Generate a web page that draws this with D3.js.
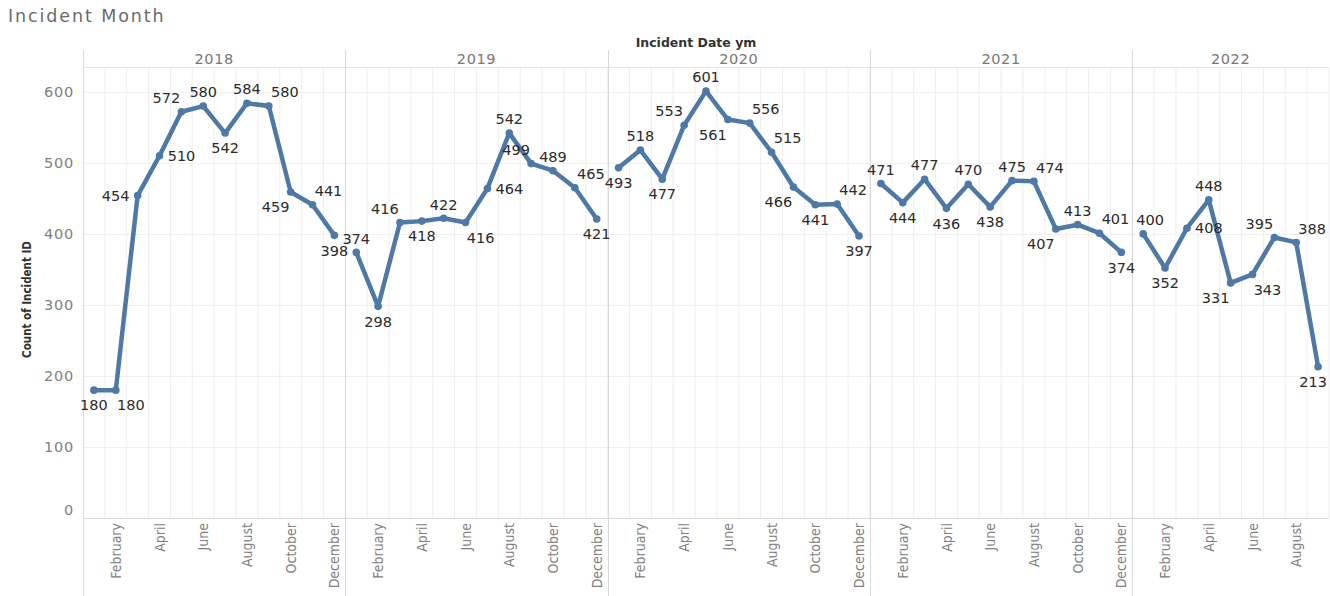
<!DOCTYPE html>
<html>
<head>
<meta charset="utf-8">
<script src="https://cdn.jsdelivr.net/npm/d3@7"></script>
<style>
  html, body { margin: 0; padding: 0; background: #fff; }
  svg { display: block; }
</style>
</head>
<body>
<svg id="chart" width="1330" height="596"></svg>
<script>
// ---------- data ----------
const years = ["2018", "2019", "2020", "2021", "2022"];
const monthNames = ["January","February","March","April","May","June","July","August","September","October","November","December"];
const counts2018 = [180, 180, 454, 510, 572, 580, 542, 584, 580, 459, 441, 398];
const counts2019 = [374, 298, 416, 418, 422, 416, 464, 542, 499, 489, 465, 421];
const counts2020 = [493, 518, 477, 553, 601, 561, 556, 515, 466, 441, 442, 397];
const counts2021 = [471, 444, 477, 436, 470, 438, 475, 474, 407, 413, 401, 374];
const counts2022 = [400, 352, 408, 448, 331, 343, 395, 388, 213];
const yTicks = [0, 100, 200, 300, 400, 500, 600];
const monthTickLabels = ["February", "April", "June", "August", "October", "December"];

// label placement codes (a=above, b=below, l=left, r=right, combos)
const labelPlace2018 = ["b","br","l","r","al","a","b","a","ar","bl","ar","b"];
const labelPlace2019 = ["a","b","al","b","a","br","r","a","al","a","ar","b"];
const labelPlace2020 = ["b","a","b","al","a","bl","ar","ar","bl","b","ar","b"];
const labelPlace2021 = ["a","b","a","b","a","b","a","ar","bl","a","ar","b"];
const labelPlace2022 = ["as","b","r","a","bl","br","al","ar","bs"];

const seriesByYear = [counts2018, counts2019, counts2020, counts2021, counts2022];
const placeByYear = [labelPlace2018, labelPlace2019, labelPlace2020, labelPlace2021, labelPlace2022];

const rows = [];
years.forEach((yr, yi) => {
  seriesByYear[yi].forEach((v, mi) => {
    rows.push({ year: yr, month: monthNames[mi], key: yr + "-" + mi, value: v, place: placeByYear[yi][mi] });
  });
});

// ---------- layout ----------
const W = 1330, H = 596;
const plotLeft = 83, plotRight = 1329, plotTop = 67, plotBottom = 518, headerTop = 50;
const lineColor = "#4e79a7";
const sepColor = "#d9d9d9";
const gridColor = "#efefef";

const svg = d3.select("#chart");

const x = d3.scaleBand().domain(rows.map(d => d.key)).range([plotLeft, plotRight]).paddingInner(0).paddingOuter(0);
const y = d3.scaleLinear().domain([0, 635]).range([plotBottom, plotTop]);

// title
svg.append("text").attr("x", 8).attr("y", 22)
  .attr("font-family", "DejaVu Sans, sans-serif").attr("font-size", 17.5)
  .attr("letter-spacing", 1.9).attr("fill", "#6b6b6b").text("Incident Month");

// header title
svg.append("text").attr("x", (plotLeft + plotRight) / 2 - 10).attr("y", 47)
  .attr("text-anchor", "middle").attr("font-family", "DejaVu Sans, sans-serif")
  .attr("font-weight", "bold").attr("font-size", 12.5).attr("fill", "#333")
  .text("Incident Date ym");

// horizontal gridlines
svg.append("g").selectAll("line").data(yTicks.filter(t => t > 0)).join("line")
  .attr("x1", plotLeft).attr("x2", plotRight)
  .attr("y1", d => y(d) + 0.5).attr("y2", d => y(d) + 0.5)
  .attr("stroke", gridColor).attr("stroke-width", 1);

// vertical month gridlines
svg.append("g").selectAll("line").data(rows).join("line")
  .attr("x1", d => x(d.key) + x.bandwidth()).attr("x2", d => x(d.key) + x.bandwidth())
  .attr("y1", plotTop).attr("y2", plotBottom)
  .attr("stroke", gridColor).attr("stroke-width", 1);

// panels
const panels = years.map((yr, yi) => {
  const keys = rows.filter(r => r.year === yr).map(r => r.key);
  return { year: yr, x0: x(keys[0]), x1: x(keys[keys.length - 1]) + x.bandwidth() };
});

// header bottom line and axis line
svg.append("line").attr("x1", plotLeft).attr("x2", plotRight).attr("y1", plotTop + 0.5).attr("y2", plotTop + 0.5)
  .attr("stroke", "#e6e6e6");
svg.append("line").attr("x1", plotLeft).attr("x2", plotRight).attr("y1", plotBottom + 0.5).attr("y2", plotBottom + 0.5)
  .attr("stroke", sepColor);

// panel separators
svg.append("g").selectAll("line").data(panels).join("line")
  .attr("x1", d => Math.round(d.x0) + 0.5).attr("x2", d => Math.round(d.x0) + 0.5)
  .attr("y1", headerTop).attr("y2", H)
  .attr("stroke", sepColor).attr("stroke-width", 1);

// year labels
svg.append("g").selectAll("text").data(panels).join("text")
  .attr("x", d => (d.x0 + d.x1) / 2).attr("y", 64)
  .attr("text-anchor", "middle").attr("font-family", "DejaVu Sans, sans-serif")
  .attr("font-size", 14.5).attr("letter-spacing", 0.6).attr("fill", "#777").text(d => d.year);

// y axis
const yAxis = d3.axisLeft(y).tickValues(yTicks).tickSize(0).tickPadding(0).tickFormat(d3.format("d"));
const gy = svg.append("g").attr("transform", `translate(${plotLeft - 9},0)`).call(yAxis);
gy.select(".domain").remove();
gy.selectAll("text").attr("font-family", "DejaVu Sans, sans-serif").attr("font-size", 14.5)
  .attr("letter-spacing", 0.8).attr("fill", "#808080")
  .attr("dy", d => d === 0 ? "-0.25em" : "0.32em");

// y axis title
svg.append("text").attr("transform", `translate(31,${(plotTop + plotBottom) / 2 + 7}) rotate(-90)`)
  .attr("text-anchor", "middle").attr("font-family", "DejaVu Sans, sans-serif")
  .attr("font-stretch", "condensed").attr("font-weight", "bold").attr("font-size", 11.5)
  .attr("fill", "#333").text("Count of Incident ID");

// x axis (month labels)
const tickKeys = rows.filter(r => monthTickLabels.includes(r.month)).map(r => r.key);
const keyToMonth = new Map(rows.map(r => [r.key, r.month]));
const xAxis = d3.axisBottom(x).tickValues(tickKeys).tickSize(0).tickFormat(k => keyToMonth.get(k));
const gx = svg.append("g").attr("transform", `translate(0,${plotBottom})`).call(xAxis);
gx.select(".domain").remove();
gx.selectAll("text")
  .attr("font-family", "DejaVu Sans, sans-serif").attr("font-stretch", "condensed")
  .attr("font-size", 14).attr("fill", "#808080")
  .attr("text-anchor", "end").attr("transform", "rotate(-90)")
  .attr("x", -5).attr("y", 0).attr("dy", "0.36em");

// lines
const line = d3.line().x(d => x(d.key) + x.bandwidth() / 2).y(d => y(d.value));
svg.append("g").selectAll("path").data(years.map(yr => rows.filter(r => r.year === yr))).join("path")
  .attr("d", line).attr("fill", "none").attr("stroke", lineColor)
  .attr("stroke-width", 4.5).attr("stroke-linejoin", "round").attr("stroke-linecap", "round");

// points
svg.append("g").selectAll("circle").data(rows).join("circle")
  .attr("cx", d => x(d.key) + x.bandwidth() / 2).attr("cy", d => y(d.value))
  .attr("r", 3.8).attr("fill", lineColor);

// labels
const off = {
  a: [0, -14], b: [0, 15], l: [-22, 0], r: [22, 0],
  al: [-15, -14], ar: [16, -14], bl: [-15, 15], br: [15, 15],
  as: [7, -14], bs: [-5, 15]
};
svg.append("g").selectAll("text").data(rows).join("text")
  .attr("x", d => x(d.key) + x.bandwidth() / 2 + off[d.place][0])
  .attr("y", d => y(d.value) + off[d.place][1])
  .attr("dy", "0.36em").attr("text-anchor", "middle")
  .attr("font-family", "DejaVu Sans, sans-serif").attr("font-size", 14.5)
  .attr("fill", "#2b2b2b").text(d => d.value);
</script>
</body>
</html>
